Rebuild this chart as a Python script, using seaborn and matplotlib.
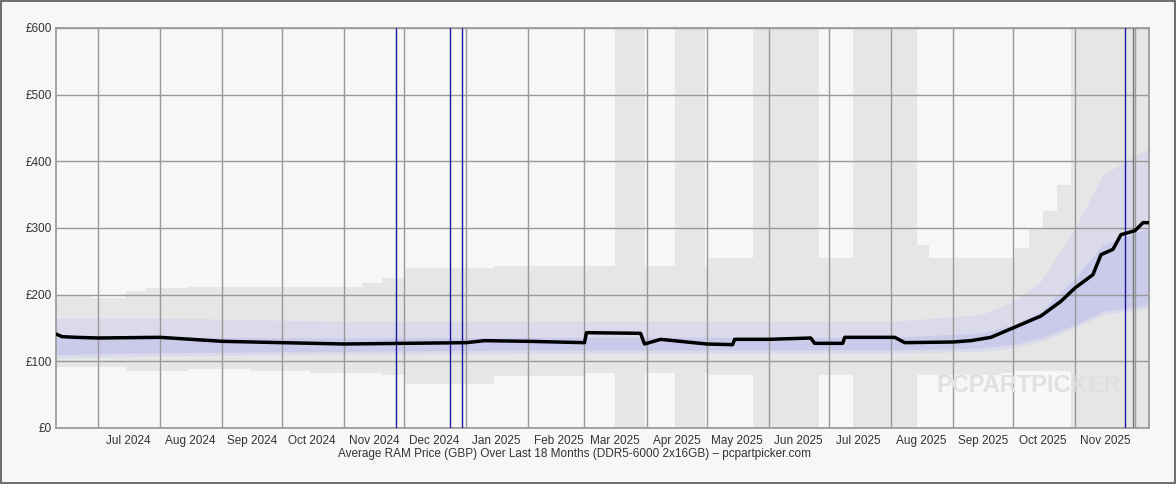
import matplotlib
matplotlib.use("Agg")
import matplotlib.pyplot as plt
import matplotlib.dates as mdates
import seaborn as sns
import pandas as pd
import numpy as np

# Average price line
avg_dates = ["2024-06-10","2024-06-13","2024-06-20","2024-07-01","2024-08-01","2024-09-01","2024-10-01",
             "2024-11-01","2024-12-01","2025-01-01","2025-01-10","2025-02-01","2025-03-01","2025-03-02",
             "2025-03-29","2025-03-31","2025-04-08","2025-05-01","2025-05-14","2025-05-15","2025-06-01",
             "2025-06-22","2025-06-24","2025-07-08","2025-07-09","2025-08-03","2025-08-08","2025-09-01",
             "2025-09-10","2025-09-20","2025-10-01","2025-10-15","2025-10-25","2025-11-01","2025-11-10",
             "2025-11-14","2025-11-20","2025-11-24","2025-12-01","2025-12-05","2025-12-08"]
avg_price = [141,137,136,135,136,130,128,126,127,128,131,130,128,143,
             142,126,133,126,125,133,133,135,127,127,136,136,128,129,
             131,136,150,168,190,210,230,260,268,290,296,308,308]

# Price range envelope (step)
env_dates = ["2024-06-10","2024-06-28","2024-07-15","2024-07-25","2024-08-15","2024-09-15","2024-10-15",
             "2024-11-10","2024-11-20","2024-12-01","2025-01-15","2025-03-01","2025-05-01","2025-07-01",
             "2025-08-05","2025-08-20","2025-09-25","2025-10-02","2025-10-09","2025-10-16","2025-10-23",
             "2025-10-30","2025-11-12","2025-12-08"]
env_high = [200,195,205,210,212,212,212,218,225,240,243,243,255,255,
            275,255,255,270,300,325,365,600,600,600]
env_low  = [92,92,85,86,88,85,82,82,80,66,78,82,80,80,
            80,80,82,85,85,85,85,80,88,88]

# Interquartile band of listings (blue density)
iqr_dates = ["2024-06-10","2024-08-01","2024-11-01","2025-02-01","2025-05-01","2025-08-01",
             "2025-09-15","2025-10-01","2025-10-15","2025-11-01","2025-11-15","2025-12-08"]
iqr_low  = [105,108,110,112,112,112,115,120,130,150,170,180]
iqr_high = [165,165,160,160,160,160,170,190,220,300,380,420]

# Grey full-height blocks (start, end)
block_start = ["2025-03-16","2025-04-15","2025-05-24","2025-07-13","2025-10-30"]
block_end   = ["2025-03-31","2025-04-30","2025-06-26","2025-08-14","2025-12-08"]

# Marker lines
blue_lines = ["2024-11-27","2024-12-24","2024-12-30","2025-11-26"]
grey_lines = ["2025-11-30"]

month_labels = ["2024-07-16","2024-08-16","2024-09-16","2024-10-16","2024-11-16","2024-12-16",
                "2025-01-16","2025-02-16","2025-03-16","2025-04-16","2025-05-16","2025-06-16",
                "2025-07-16","2025-08-16","2025-09-16","2025-10-16","2025-11-16"]
yticks = [0,100,200,300,400,500,600]
ytick_labels = ["£0","£100","£200","£300","£400","£500","£600"]

bg = "#f7f7f7"
sns.set_theme(style="white")
plt.rcParams['font.family'] = ['Liberation Sans', 'DejaVu Sans']

fig = plt.figure(figsize=(11.76, 4.84), dpi=100, facecolor=bg)
fig.patches.append(plt.Rectangle((0.001, 0.002), 0.998, 0.996, transform=fig.transFigure,
                                 fill=False, edgecolor="#555555", lw=1.2))
ax = fig.add_axes([56/1176, 56/484, (1149-56)/1176, (428-28)/484])
ax.set_facecolor(bg)

ed = pd.to_datetime(env_dates)
ax.fill_between(ed, env_low, env_high, step="post", color="#e6e6e6", lw=0, zorder=1)
for s, e in zip(block_start, block_end):
    ax.axvspan(pd.Timestamp(s), pd.Timestamp(e), color="#e6e6e6", lw=0, zorder=1)
idd = pd.to_datetime(iqr_dates)
ax.fill_between(idd, iqr_low, iqr_high, color="#d2d2f0", alpha=0.6, lw=0, zorder=2)
ax.fill_between(idd, [l + 5 for l in iqr_low], [0.5*(l+h) for l, h in zip(iqr_low, iqr_high)],
                color="#bcbcec", alpha=0.5, lw=0, zorder=2)

df = pd.DataFrame({"date": pd.to_datetime(avg_dates), "price": avg_price})
sns.lineplot(data=df, x="date", y="price", ax=ax, color="black", lw=2.5, zorder=5)

for d in blue_lines:
    ax.axvline(pd.Timestamp(d), color="#1a1aa0", lw=1, zorder=4)
for d in grey_lines:
    ax.axvline(pd.Timestamp(d), color="#777777", lw=1, zorder=4)

ax.set_xlim(pd.Timestamp("2024-06-10"), pd.Timestamp("2025-12-08"))
ax.set_ylim(0, 600)
ax.set_yticks(yticks)
ax.set_yticklabels(ytick_labels)
ax.xaxis.set_major_locator(mdates.MonthLocator())
ax.xaxis.set_major_formatter(plt.NullFormatter())
ax.set_xticks(pd.to_datetime(month_labels), minor=True)
ax.xaxis.set_minor_formatter(mdates.DateFormatter("%b %Y"))
ax.tick_params(axis="x", which="both", length=0, labelsize=8.5, colors="#333333", pad=5)
ax.tick_params(axis="y", length=0, labelsize=8.5, colors="#333333", pad=3)
ax.grid(True, which="major", color="#999999", lw=1, zorder=3)
ax.set_axisbelow(False)
for sp in ax.spines.values():
    sp.set_color("#999999")
ax.set_xlabel("")
ax.set_ylabel("")

ax.text(0.89, 0.105, "PCPARTPICKER", transform=ax.transAxes, fontsize=17, color="#e0e0e0",
        ha="center", va="center", fontweight="bold", zorder=6)
fig.text(575/1176, 1 - 454/484, "Average RAM Price (GBP) Over Last 18 Months (DDR5-6000 2x16GB) – pcpartpicker.com",
         ha="center", va="center", fontsize=8.5, color="#333333")
fig.savefig("out.png", dpi=100, facecolor=bg)
